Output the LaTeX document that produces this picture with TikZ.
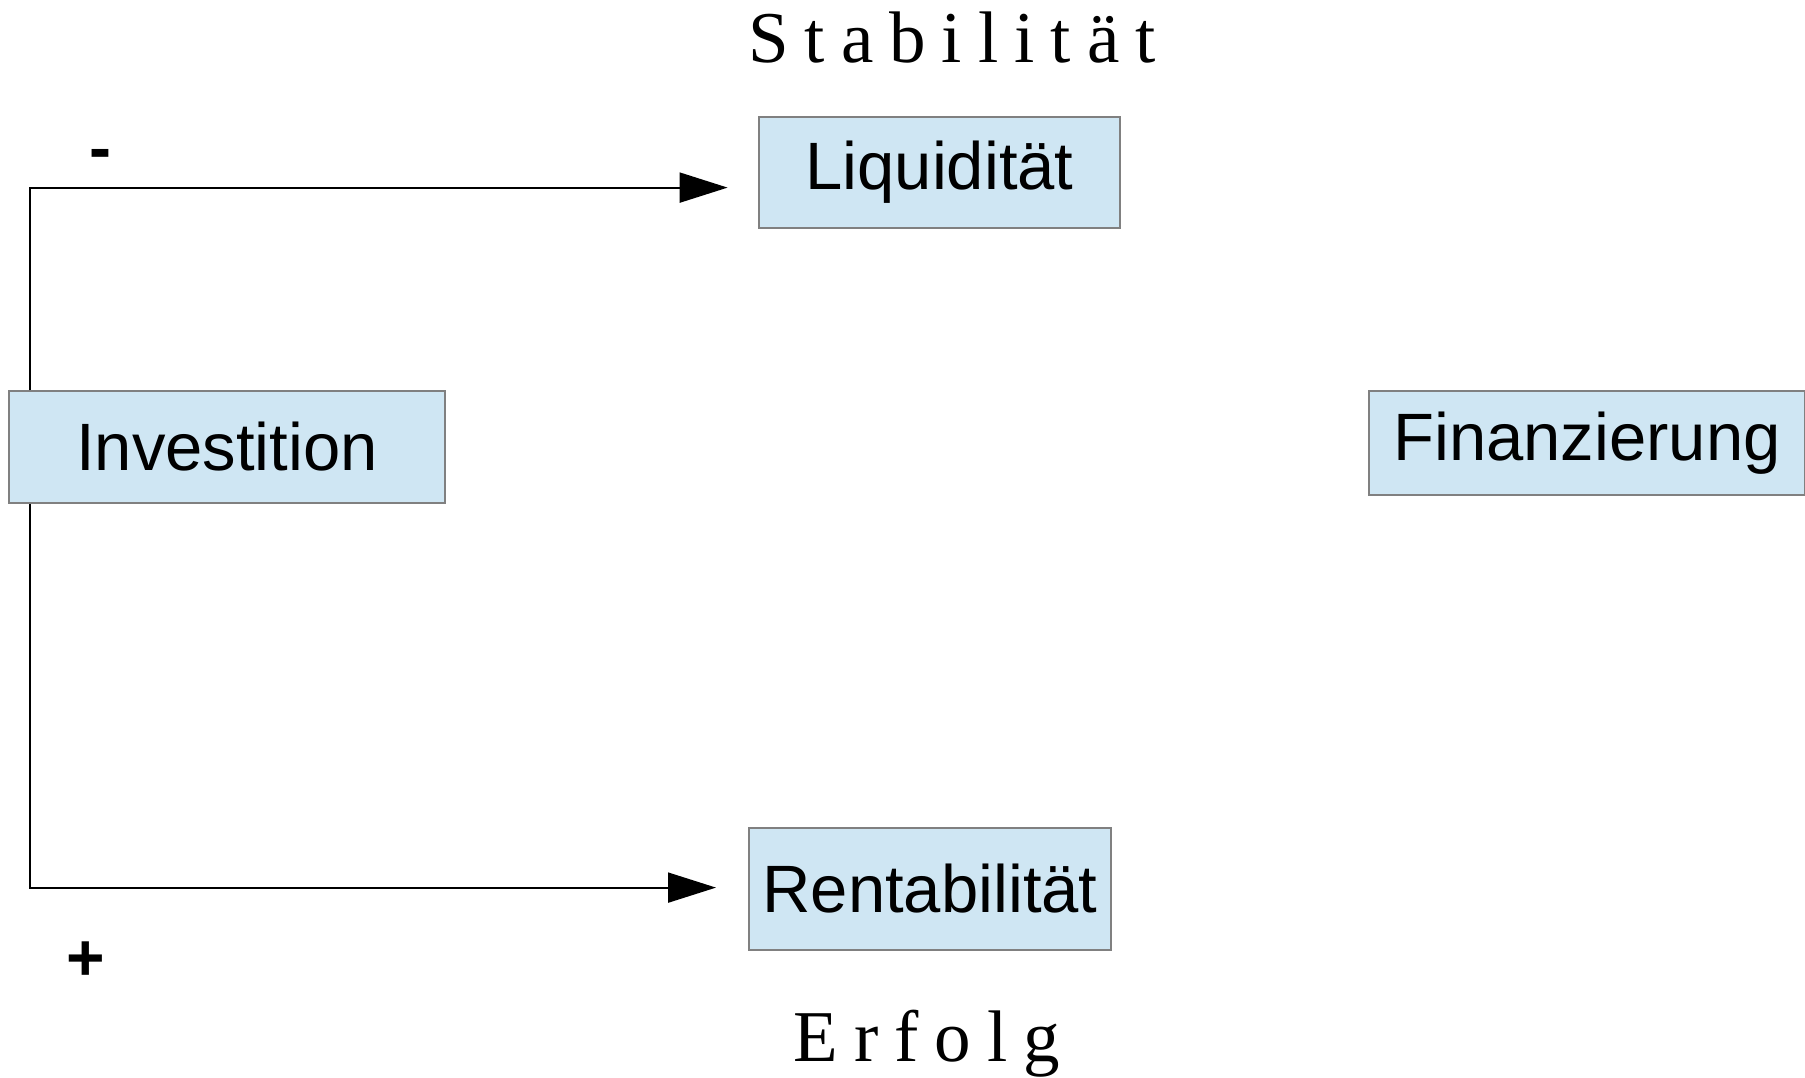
\documentclass[tikz,border=0pt]{standalone}
\usepackage{fontspec}
\setmainfont{Liberation Sans}
\newfontfamily\serifface{Liberation Serif}
\usetikzlibrary{arrows.meta}
\definecolor{boxfill}{RGB}{207,230,243}
\definecolor{boxline}{RGB}{128,128,128}
\begin{document}
\begin{tikzpicture}[x=1pt,y=-1pt,
  box/.style={draw=boxline, line width=1.5pt, fill=boxfill, inner sep=0pt,
    font=\fontsize{67}{80}\selectfont, rectangle},
  arr/.style={line width=2pt, -{Triangle[length=48pt,width=30pt]}},
  sign/.style={font=\fontsize{66}{79}\selectfont, inner sep=0pt},
  title/.style={font=\serifface\fontsize{73}{88}\selectfont, inner sep=0pt}]
\useasboundingbox (0,0) rectangle (1805,1077);
\node[title] (stab) at (952,38) {S\kern16pt t\kern16pt a\kern16pt b\kern16pt i\kern16pt l\kern16pt i\kern16pt t\kern16pt ä\kern16pt t};
\node[title] (erf) at (927,1044) {E\kern16pt r\kern16pt f\kern16pt o\kern16pt l\kern16pt g};
\node[box, minimum width=361pt, minimum height=111pt] (liq) at (939.5,172.5) {Liquidität};
\node[box, minimum width=436pt, minimum height=112pt] (inv) at (227,447) {Investition};
\node[box, minimum width=436pt, minimum height=104pt] (fin) at (1587,443) {Finanzierung};
\node[box, minimum width=362pt, minimum height=122pt] (ren) at (930,889) {Rentabilität};
\node[sign] (minus) at (100,160) {\textbf{-}};
\node[sign] (plus) at (86,961) {\textbf{+}};
\coordinate (lt) at (727.6,187.6);
\coordinate (rt) at (716,887.6);
\draw[arr] ([xshift=22pt]inv.north west) |- (lt);
\draw[arr] ([xshift=22pt]inv.south west) |- (rt);
\end{tikzpicture}
\end{document}
